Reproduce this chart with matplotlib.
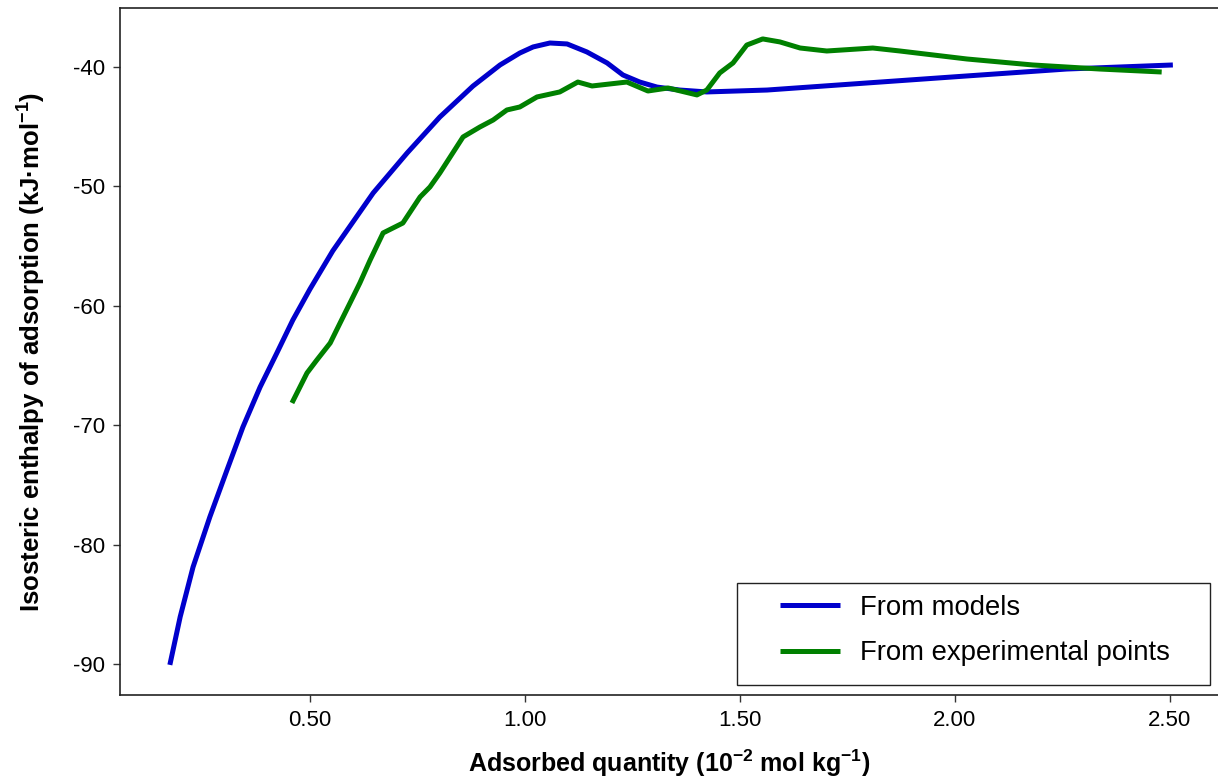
import matplotlib
matplotlib.use('Agg')
import matplotlib.pyplot as plt
from matplotlib.patches import Rectangle
from matplotlib.ticker import FormatStrFormatter

plt.rcParams['font.family'] = ['Liberation Sans', 'DejaVu Sans']
plt.rcParams['mathtext.default'] = 'regular'

# данные
q_models = [0.174, 0.198, 0.228, 0.267, 0.307, 0.344, 0.384, 0.423, 0.460, 0.500,
            0.553, 0.647, 0.726, 0.802, 0.879, 0.942, 0.988, 1.019, 1.058, 1.098,
            1.144, 1.191, 1.228, 1.267, 1.307, 1.360, 1.423, 1.563, 1.795, 2.028,
            2.260, 2.507]
h_models = [-90.08, -86.06, -81.88, -77.69, -73.75, -70.15, -66.80, -63.95, -61.20, -58.60,
            -55.40, -50.55, -47.20, -44.19, -41.60, -39.83, -38.83, -38.32, -37.99, -38.07,
            -38.74, -39.66, -40.67, -41.26, -41.68, -41.93, -42.09, -41.93, -41.34, -40.75,
            -40.17, -39.83]

q_exp = [0.458, 0.493, 0.516, 0.547, 0.570, 0.593, 0.616, 0.640, 0.670, 0.716,
         0.756, 0.779, 0.802, 0.856, 0.895, 0.926, 0.958, 0.988, 1.028, 1.081,
         1.123, 1.156, 1.237, 1.286, 1.333, 1.400, 1.423, 1.453, 1.484, 1.516,
         1.553, 1.593, 1.640, 1.702, 1.809, 1.872, 2.028, 2.181, 2.337, 2.481]
h_exp = [-68.14, -65.63, -64.54, -63.12, -61.44, -59.77, -58.09, -56.16, -53.90, -53.07,
         -50.89, -50.05, -48.88, -45.86, -45.03, -44.44, -43.60, -43.35, -42.51, -42.09,
         -41.26, -41.59, -41.26, -42.01, -41.76, -42.34, -41.93, -40.50, -39.66, -38.16,
         -37.65, -37.90, -38.41, -38.66, -38.41, -38.66, -39.33, -39.83, -40.17, -40.42]

x_ticks = [0.5, 1.0, 1.5, 2.0, 2.5]
y_ticks = [-90, -80, -70, -60, -50, -40]

fig = plt.figure(figsize=(12.18, 7.78), dpi=100)
ax = fig.add_axes([0.0985, 0.1067, 0.9015, 0.883])

ax.plot(q_models, h_models, color='#0000cc', linewidth=3.6,
        solid_joinstyle='round', solid_capstyle='butt', label='From models')
ax.plot(q_exp, h_exp, color='#008000', linewidth=3.6,
        solid_joinstyle='round', solid_capstyle='butt', label='From experimental points')

ax.set_xlim(0.058, 2.612)
ax.set_ylim(-92.6, -35.06)
ax.set_xticks(x_ticks)
ax.set_yticks(y_ticks)
ax.xaxis.set_major_formatter(FormatStrFormatter('%.2f'))
ax.yaxis.set_major_formatter(FormatStrFormatter('%d'))
ax.tick_params(direction='out', length=5, width=1, color='#333333',
               labelsize=16, pad=6)

ax.spines['right'].set_visible(False)
for s in ['left', 'bottom', 'top']:
    ax.spines[s].set_linewidth(1.2)
    ax.spines[s].set_color('#222222')

ax.set_xlabel('Adsorbed quantity (10$^{-2}$ mol kg$^{-1}$)', fontsize=18,
              fontweight='bold', va='top')
ax.set_ylabel('Isosteric enthalpy of adsorption (kJ·mol$^{-1}$)', fontsize=18.5,
              fontweight='bold')
ax.xaxis.set_label_coords(0.5, -0.076)
ax.yaxis.set_label_coords(-0.066, 0.5)

# рамка легенды отдельно, чтобы задать отступы как в оригинале
box = Rectangle((0.5619, 0.0146), 0.4308, 0.1485, transform=ax.transAxes,
                facecolor='white', edgecolor='#222222', linewidth=1.0, zorder=5)
ax.add_patch(box)
leg = ax.legend(loc='center left', bbox_to_anchor=(0.601, 0.0939), borderaxespad=0,
                borderpad=0, frameon=False, fontsize=19.8, handlelength=2.2,
                handletextpad=0.72, labelspacing=0.72)
leg.set_zorder(6)

fig.savefig('out.png', dpi=100)
